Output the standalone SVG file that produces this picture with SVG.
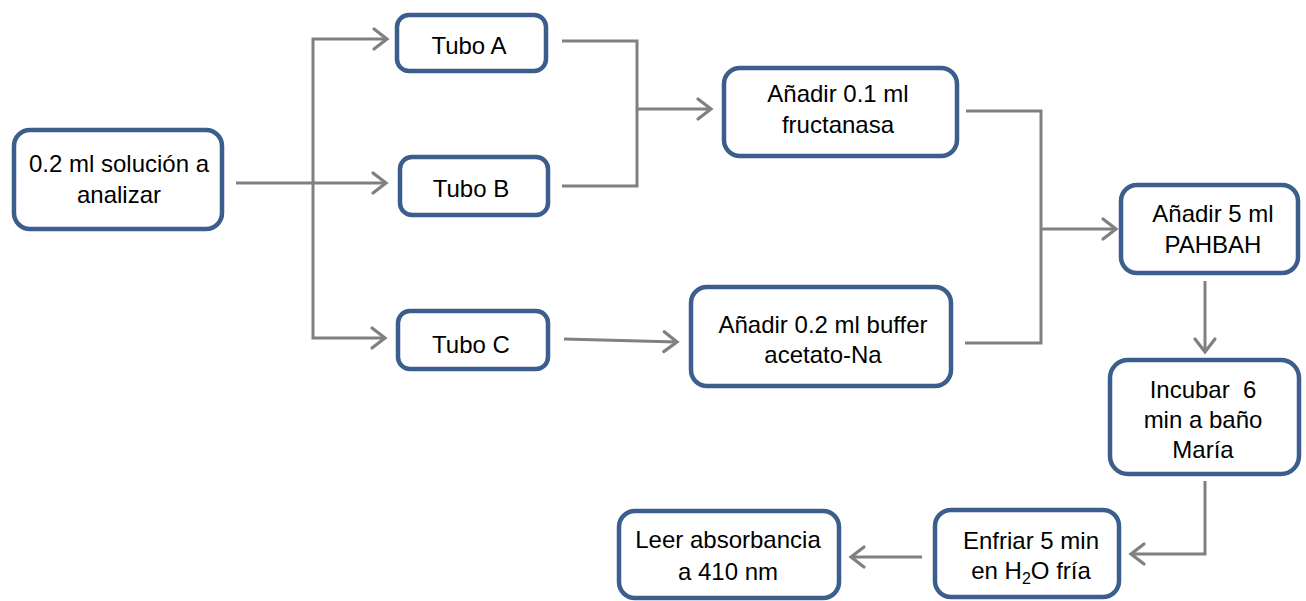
<svg xmlns="http://www.w3.org/2000/svg" width="1306" height="601" viewBox="0 0 1306 601">
  <style>
    .box { fill: #ffffff; stroke: #3b5e8c; stroke-width: 4.5; }
    .lbl { font-family: "Liberation Sans", Arial, sans-serif; font-size: 24px; fill: #000000; text-anchor: middle; }
    .con { fill: none; stroke: #808080; stroke-width: 3; }
  </style>
  <defs>
    <marker id="arr" markerUnits="userSpaceOnUse" markerWidth="40" markerHeight="40" viewBox="-20 -20 40 40" refX="0" refY="0" orient="auto" overflow="visible">
      <path d="M-13,-10 L0,0 L-13,10" fill="none" stroke="#808080" stroke-width="3.2" stroke-linecap="round"/>
    </marker>
  </defs>
  <rect width="1306" height="601" fill="#ffffff"/>

  <g id="connectors">
    <path class="con" d="M236,183 H386" marker-end="url(#arr)"/>
    <path class="con" d="M313,183 V39 H387" marker-end="url(#arr)"/>
    <path class="con" d="M313,183 V338 H385" marker-end="url(#arr)"/>
    <path class="con" d="M562,41 H637 V186 H562"/>
    <path class="con" d="M637,109 H711" marker-end="url(#arr)"/>
    <path class="con" d="M564,339 L677,342" marker-end="url(#arr)"/>
    <path class="con" d="M966,111 H1041 V343 H965"/>
    <path class="con" d="M1041,229 H1116" marker-end="url(#arr)"/>
    <path class="con" d="M1205,281 V352" marker-end="url(#arr)"/>
    <path class="con" d="M1205,481 V554 H1131" marker-end="url(#arr)"/>
    <path class="con" d="M922,557 H851" marker-end="url(#arr)"/>
  </g>

  <g id="n-solucion">
    <rect class="box" x="14" y="130" width="208" height="99" rx="16"/>
    <text class="lbl" x="119" y="172">0.2 ml solución a</text>
    <text class="lbl" x="119" y="203">analizar</text>
  </g>
  <g id="n-tuboA">
    <rect class="box" x="397" y="15" width="149" height="56" rx="12"/>
    <text class="lbl" x="469" y="54">Tubo A</text>
  </g>
  <g id="n-tuboB">
    <rect class="box" x="400" y="157" width="148" height="58" rx="12"/>
    <text class="lbl" x="471" y="197">Tubo B</text>
  </g>
  <g id="n-tuboC">
    <rect class="box" x="398" y="311" width="150" height="58" rx="12"/>
    <text class="lbl" x="471" y="353">Tubo C</text>
  </g>
  <g id="n-fructanasa">
    <rect class="box" x="724" y="68" width="233" height="88" rx="16"/>
    <text class="lbl" x="838" y="102">Añadir 0.1 ml</text>
    <text class="lbl" x="838" y="133">fructanasa</text>
  </g>
  <g id="n-buffer">
    <rect class="box" x="691" y="287" width="260" height="99" rx="16"/>
    <text class="lbl" x="823" y="333">Añadir 0.2 ml buffer</text>
    <text class="lbl" x="823" y="363">acetato-Na</text>
  </g>
  <g id="n-pahbah">
    <rect class="box" x="1121" y="185" width="177" height="88" rx="16"/>
    <text class="lbl" x="1213" y="222">Añadir 5 ml</text>
    <text class="lbl" x="1213" y="253">PAHBAH</text>
  </g>
  <g id="n-incubar">
    <rect class="box" x="1110" y="360" width="189" height="114" rx="18"/>
    <text class="lbl" x="1203" y="398">Incubar&#160; 6</text>
    <text class="lbl" x="1203" y="428">min a baño</text>
    <text class="lbl" x="1203" y="458">María</text>
  </g>
  <g id="n-enfriar">
    <rect class="box" x="935" y="510" width="184" height="87" rx="16"/>
    <text class="lbl" x="1031" y="549">Enfriar 5 min</text>
    <text class="lbl" x="1031" y="579">en H<tspan font-size="16" dy="5">2</tspan><tspan dy="-5">O fría</tspan></text>
  </g>
  <g id="n-leer">
    <rect class="box" x="619" y="511" width="220" height="87" rx="16"/>
    <text class="lbl" x="728" y="548">Leer absorbancia</text>
    <text class="lbl" x="728" y="580">a 410 nm</text>
  </g>
</svg>
